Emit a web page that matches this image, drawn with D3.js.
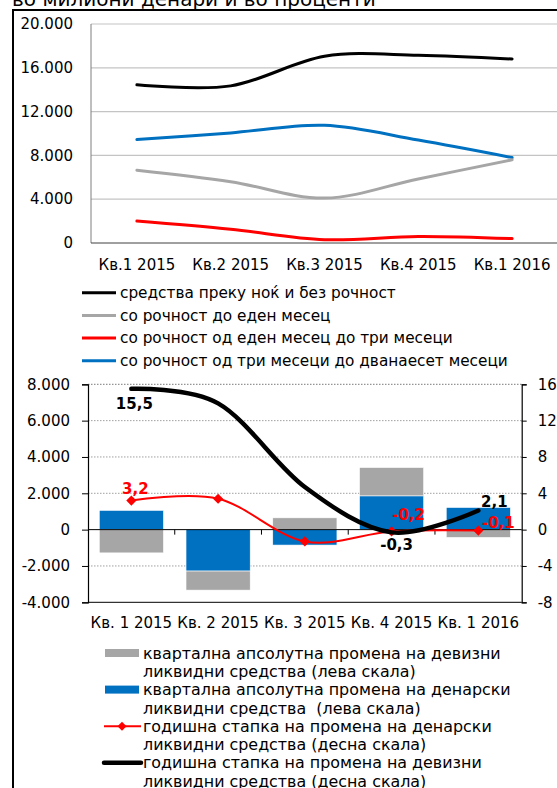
<!DOCTYPE html>
<html lang="mk">
<head>
<meta charset="utf-8">
<title>likvidni sredstva</title>
<script src="https://d3js.org/d3.v7.min.js"></script>
<style>
  body { margin: 0; background: #fff; }
  svg { font-family: "DejaVu Sans", Verdana, sans-serif; }
  .tick-label { font-size: 15px; fill: #000; }
  .leg { font-size: 15.3px; fill: #000; white-space: pre; }
  .legb { font-size: 15.9px; fill: #000; white-space: pre; }
  .lbl { font-size: 15px; font-weight: bold; }
</style>
</head>
<body>
<div id="main"></div>
<script>
// ---- data: top chart (millions of denars)
var quartersTop = ["Кв.1 2015", "Кв.2 2015", "Кв.3 2015", "Кв.4 2015", "Кв.1 2016"];
var overnight = [14450, 14350, 17050, 17150, 16800];
var upToMonth = [6650, 5600, 4100, 5850, 7600];
var oneToThree = [2000, 1250, 300, 600, 400];
var threeToTwelve = [9450, 10050, 10750, 9400, 7800];
var topTicks = [0, 4000, 8000, 12000, 16000, 20000];
var topNames = ["средства преку ноќ и без рочност", "со рочност до еден месец",
                "со рочност од еден месец до три месеци", "со рочност од три месеци до дванаесет месеци"];

// ---- data: bottom chart
var quartersBot = ["Кв. 1 2015", "Кв. 2 2015", "Кв. 3 2015", "Кв. 4 2015", "Кв. 1 2016"];
var fxAbsChange = [-1280, -1050, 650, 1560, -430];      // девизни, лева скала
var denAbsChange = [1060, -2280, -850, 1860, 1220];     // денарски, лева скала
var denRate = [3.2, 3.4, -1.3, -0.2, -0.1];             // десна скала
var fxRate = [15.5, 13.9, 4.7, -0.3, 2.1];              // десна скала
var leftTicks = [-4000, -2000, 0, 2000, 4000, 6000, 8000];
var rightTicks = [-8, -4, 0, 4, 8, 12, 16];
var botLegend = [
  ["квартална апсолутна промена на девизни", "ликвидни средства (лева скала)"],
  ["квартална апсолутна промена на денарски", "ликвидни средства  (лева скала)"],
  ["годишна стапка на промена на денарски", "ликвидни средства (десна скала)"],
  ["годишна стапка на промена на девизни", "ликвидни средства (десна скала)"]
];

var width = 557, height = 788;
var mk = d3.formatLocale({ decimal: ",", thousands: ".", grouping: [3], currency: ["", ""], minus: "-" });
var fmt = mk.format(",.0f");
var fmtDec = mk.format(".1f");
var fmtInt = mk.format("d");

var svg = d3.select("#main").append("svg")
  .attr("width", width).attr("height", height);

// title (cut off at the top) and frame
svg.append("text").attr("x", 12).attr("y", 6)
  .attr("font-size", 20).text("во милиони денари и во проценти");
svg.append("path").attr("d", "M13,800V10H570")
  .attr("fill", "none").attr("stroke", "#000").attr("stroke-width", 2);

// ================= top chart
var xT = d3.scaleBand().domain(quartersTop).range([90, 559]);
var yT = d3.scaleLinear().domain([0, 20000]).range([243, 24]);
var cx = function(q) { return xT(q) + xT.bandwidth() / 2; };

svg.append("g").selectAll("line").data(topTicks.filter(function(t) { return t > 0; }))
  .join("line")
  .attr("x1", 91).attr("x2", 560)
  .attr("y1", function(d) { return yT(d); }).attr("y2", function(d) { return yT(d); })
  .attr("stroke", "#c4c4c4").attr("stroke-width", 1.2);

svg.append("line").attr("x1", 91).attr("x2", 91).attr("y1", yT(20000)).attr("y2", yT(0))
  .attr("stroke", "#7f7f7f");
svg.append("line").attr("x1", 91).attr("x2", 560).attr("y1", yT(0)).attr("y2", yT(0))
  .attr("stroke", "#404040");

svg.append("g").selectAll("text").data(topTicks).join("text")
  .attr("class", "tick-label").attr("text-anchor", "end")
  .attr("x", 73).attr("y", function(d) { return yT(d); }).attr("dy", "0.35em")
  .text(fmt);

svg.append("g").selectAll("text").data(quartersTop).join("text")
  .attr("class", "tick-label").attr("text-anchor", "middle")
  .attr("x", cx).attr("y", 270).text(function(d) { return d; });

var topSeries = [
  { name: topNames[0], vals: overnight, color: "#000000" },
  { name: topNames[1], vals: upToMonth, color: "#a6a6a6" },
  { name: topNames[2], vals: oneToThree, color: "#ff0000" },
  { name: topNames[3], vals: threeToTwelve, color: "#0070c0" }
];
var lineT = d3.line()
  .x(function(d, i) { return cx(quartersTop[i]); })
  .y(function(d) { return yT(d); })
  .curve(d3.curveCatmullRom.alpha(0));

// draw order: blue, gray, red, black on top
[3, 1, 2, 0].forEach(function(k) {
  svg.append("path").datum(topSeries[k].vals)
    .attr("d", lineT).attr("fill", "none")
    .attr("stroke", topSeries[k].color).attr("stroke-width", 3)
    .attr("stroke-linecap", "round");
});

var legT = svg.append("g").selectAll("g").data(topSeries).join("g")
  .attr("transform", function(d, i) { return "translate(0," + (292.7 + i * 22.7) + ")"; });
legT.append("line").attr("x1", 82).attr("x2", 116)
  .attr("stroke", function(d) { return d.color; }).attr("stroke-width", 3);
legT.append("text").attr("class", "leg").attr("x", 120).attr("dy", "0.35em")
  .text(function(d) { return d.name; });

// ================= bottom chart
var x0 = 88, x1 = 521.7;
var xB = d3.scaleBand().domain(quartersBot).range([x0, x1]).paddingInner(0.26).paddingOuter(0.13);
var xBand = d3.scaleBand().domain(quartersBot).range([x0, x1]);
var yL = d3.scaleLinear().domain([-4000, 8000]).range([602.3, 384.3]);
var yR = d3.scaleLinear().domain([-8, 16]).range([602.3, 384.3]);
var bcx = function(q) { return xBand(q) + xBand.bandwidth() / 2; };

// dotted grid
svg.append("g").selectAll("line").data([-2000, 2000, 4000, 6000, 8000]).join("line")
  .attr("x1", x0).attr("x2", x1)
  .attr("y1", function(d) { return yL(d); }).attr("y2", function(d) { return yL(d); })
  .attr("stroke", function(d) { return d === 8000 ? "#7a7a7a" : "#a0a0a0"; })
  .attr("stroke-width", 1).attr("stroke-dasharray", "1.5,1.5");

// stacked bars
var rows = quartersBot.map(function(q, i) { return { q: q, den: denAbsChange[i], fx: fxAbsChange[i] }; });
var stack = d3.stack().keys(["den", "fx"]).offset(d3.stackOffsetDiverging)(rows);
var barColor = { den: "#0070c0", fx: "#a6a6a6" };
svg.append("g").selectAll("g").data(stack).join("g")
  .attr("fill", function(s) { return barColor[s.key]; })
  .selectAll("rect").data(function(s) { return s; }).join("rect")
  .attr("x", function(d) { return xB(d.data.q); })
  .attr("width", xB.bandwidth())
  .attr("y", function(d) { return yL(Math.max(d[0], d[1])); })
  .attr("height", function(d) { return Math.abs(yL(d[0]) - yL(d[1])); })
  .attr("stroke", "#ffffff").attr("stroke-width", 0.6);

// axes
svg.append("line").attr("x1", x0).attr("x2", x1).attr("y1", yL(0)).attr("y2", yL(0))
  .attr("stroke", "#000");
svg.append("g").selectAll("line").data(quartersBot.slice(1)).join("line")
  .attr("x1", function(d) { return xBand(d); }).attr("x2", function(d) { return xBand(d); })
  .attr("y1", yL(0)).attr("y2", yL(0) + 5).attr("stroke", "#000");
svg.append("line").attr("x1", x0).attr("x2", x1).attr("y1", yL(-4000)).attr("y2", yL(-4000))
  .attr("stroke", "#000");

var axL = svg.append("g").attr("transform", "translate(" + x0 + ",0)")
  .call(d3.axisLeft(yL).tickValues(leftTicks).tickSize(6).tickPadding(12).tickFormat(fmt));
var axR = svg.append("g").attr("transform", "translate(" + x1 + ",0)")
  .call(d3.axisRight(yR).tickValues(rightTicks).tickSize(5).tickPadding(11).tickFormat(fmtInt));
[axL, axR].forEach(function(ax) {
  ax.select(".domain").attr("stroke", "#000").attr("stroke-width", 1.2);
  ax.selectAll("text").attr("font-family", "DejaVu Sans, sans-serif").attr("font-size", 15).attr("fill", "#000");
});

svg.append("g").selectAll("text").data(quartersBot).join("text")
  .attr("class", "tick-label").attr("text-anchor", "middle")
  .attr("x", bcx).attr("y", 628).text(function(d) { return d; });

// lines on the right scale
var lineR = d3.line()
  .x(function(d, i) { return bcx(quartersBot[i]); })
  .y(function(d) { return yR(d); })
  .curve(d3.curveCatmullRom.alpha(0));

svg.append("path").datum(denRate).attr("d", lineR)
  .attr("fill", "none").attr("stroke", "#ff0000").attr("stroke-width", 2);
svg.append("g").selectAll("path").data(denRate).join("path")
  .attr("d", d3.symbol(d3.symbolSquare, 52))
  .attr("transform", function(d, i) { return "translate(" + bcx(quartersBot[i]) + "," + yR(d) + ") rotate(45)"; })
  .attr("fill", "#ff0000");

svg.append("path").datum(fxRate).attr("d", lineR)
  .attr("fill", "none").attr("stroke", "#000").attr("stroke-width", 4.5)
  .attr("stroke-linecap", "round");

// data labels [index, dx, dy]
var fxLabels = [[0, 3, 20], [3, 5, 18], [4, 16, -4]];
var denLabels = [[0, 4, -7], [3, 17, -11], [4, 20, -3]];
svg.append("g").selectAll("text").data(fxLabels).join("text")
  .attr("class", "lbl").attr("text-anchor", "middle").attr("fill", "#000")
  .attr("x", function(d) { return bcx(quartersBot[d[0]]) + d[1]; })
  .attr("y", function(d) { return yR(fxRate[d[0]]) + d[2]; })
  .text(function(d) { return fmtDec(fxRate[d[0]]); });
svg.append("g").selectAll("text").data(denLabels).join("text")
  .attr("class", "lbl").attr("text-anchor", "middle").attr("fill", "#ff0000")
  .attr("x", function(d) { return bcx(quartersBot[d[0]]) + d[1]; })
  .attr("y", function(d) { return yR(denRate[d[0]]) + d[2]; })
  .text(function(d) { return fmtDec(denRate[d[0]]); });

// bottom legend
var legB = svg.append("g").selectAll("g").data(botLegend).join("g")
  .attr("transform", function(d, i) { return "translate(0," + (653 + i * 36.6) + ")"; });
legB.append("text").attr("class", "legb").attr("x", 143).attr("dy", "0.35em")
  .text(function(d) { return d[0]; });
legB.append("text").attr("class", "legb").attr("x", 143).attr("y", 18.5).attr("dy", "0.35em")
  .text(function(d) { return d[1]; });
legB.filter(function(d, i) { return i < 2; }).append("rect")
  .attr("x", 105).attr("width", 34).attr("y", -4).attr("height", 8)
  .attr("fill", function(d, i) { return i === 0 ? "#a6a6a6" : "#0070c0"; });
legB.filter(function(d, i) { return i === 2; }).each(function() {
  var g = d3.select(this);
  g.append("line").attr("x1", 104).attr("x2", 141).attr("stroke", "#ff0000").attr("stroke-width", 2);
  g.append("path").attr("d", d3.symbol(d3.symbolSquare, 40))
    .attr("transform", "translate(122,0) rotate(45)").attr("fill", "#ff0000");
});
legB.filter(function(d, i) { return i === 3; }).append("line")
  .attr("x1", 104).attr("x2", 141).attr("stroke", "#000").attr("stroke-width", 4.5)
  .attr("stroke-linecap", "round");
</script>
</body>
</html>
